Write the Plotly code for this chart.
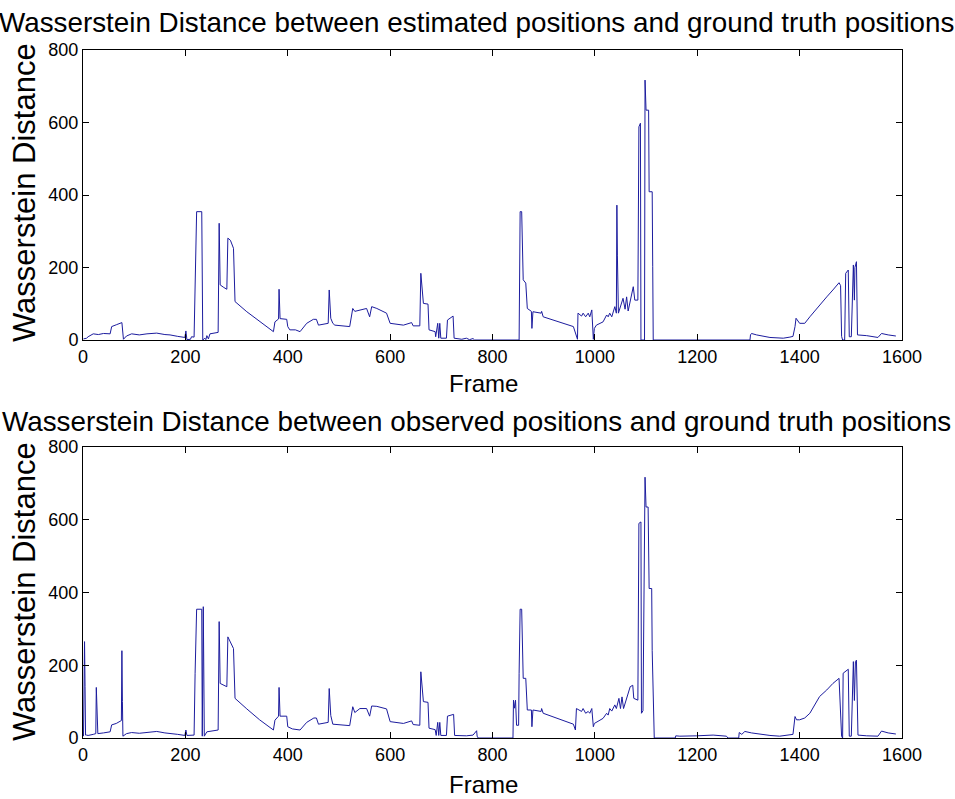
import plotly.graph_objects as go

# ---------------- data ----------------
top_frames = [1, 4, 7, 10, 15, 20, 30, 40, 53, 56, 65, 76, 79, 85, 95, 110, 125, 144, 160, 170, 185, 199, 201, 203, 210, 212, 217,
              219, 222, 232, 233, 234, 238, 240, 242, 245, 248, 256, 264, 266, 268, 275, 281, 283, 288, 294, 297, 320, 345, 372,
              375, 382, 383, 385, 398, 400, 404, 415, 424, 437, 450, 456, 460, 479, 481, 484, 488, 492, 521, 527, 531, 541, 554,
              560, 564, 574, 593, 600, 626, 642, 645, 658, 660, 665, 674, 676, 688, 689, 693, 695, 697, 699, 710, 712, 723, 725,
              740, 749, 755, 762, 765, 852, 853, 854, 857, 858, 860, 865, 868, 876, 877, 879, 895, 896, 899, 958, 964, 966, 967,
              974, 977, 982, 987, 990, 994, 997, 999, 1003, 1016, 1023, 1026, 1029, 1033, 1039, 1042, 1043, 1044, 1046, 1055,
              1059, 1062, 1065, 1075, 1078, 1084, 1086, 1089, 1090, 1097, 1098, 1100, 1105, 1106, 1112, 1113, 1114, 1303, 1304,
              1306, 1316, 1342, 1368, 1381, 1387, 1391, 1393, 1400, 1410, 1420, 1439, 1453, 1465, 1477, 1480, 1482, 1484, 1488,
              1490, 1495, 1497, 1501, 1505, 1507, 1508, 1511, 1513, 1531, 1553, 1560, 1573, 1588]
top_values = [3, 4, 5, 9, 12, 17, 15, 18, 17, 37, 42, 48, 2, 11, 17, 14, 17, 19, 15, 14, 10, 7, 25, 1, 2, 9, 8,
              175, 354, 354, 175, 0, 5, 1, 12, 3, 17, 19, 21, 322, 152, 145, 140, 281, 275, 253, 106, 78, 52, 23,
              50, 58, 140, 59, 57, 37, 28, 28, 23, 46, 57, 57, 41, 46, 138, 60, 46, 41, 37, 87, 79, 83, 87,
              64, 92, 87, 74, 46, 41, 48, 39, 39, 184, 101, 99, 28, 23, 9, 46, 5, 46, 5, 5, 55, 66, 5,
              2, 5, 1, 4, 0, 0, 175, 354, 354, 257, 166, 157, 87, 79, 32, 78, 74, 79, 64, 37, 9, 2, 74,
              66, 74, 64, 74, 64, 83, 2, 32, 41, 50, 69, 64, 74, 64, 92, 74, 372, 232, 74, 115,
              85, 119, 80, 147, 110, 110, 588, 598, 0, 0, 717, 634, 634, 409, 409, 202, 0, 0, 14,
              18, 14, 7, 5, 8, 10, 37, 60, 46, 46, 64, 97, 119, 138, 158, 150, 10, 0, 0,
              184, 193, 9, 9, 207, 110, 200, 216, 14, 12, 7, 18, 14, 11]

bottom_frames = [1, 3, 4, 5, 7, 10, 20, 25, 26, 27, 29, 40, 53, 56, 65, 75, 76, 77, 78, 85, 95, 110, 125, 144, 160, 170, 185,
                 199, 201, 203, 212, 217, 219, 222, 232, 233, 235, 236, 237, 242, 248, 264, 266, 268, 281, 283, 294, 297, 320,
                 345, 372, 375, 382, 383, 385, 398, 400, 409, 424, 437, 451, 456, 460, 479, 481, 484, 488, 521, 527, 531, 541,
                 554, 560, 564, 574, 593, 600, 626, 642, 645, 658, 660, 665, 674, 676, 688, 690, 693, 695, 697, 699, 710, 712,
                 724, 726, 749, 762, 768, 769, 770, 772, 840, 841, 843, 845, 847, 851, 852, 854, 857, 858, 860, 865, 868, 876,
                 877, 879, 895, 896, 899, 958, 962, 964, 974, 977, 982, 987, 990, 994, 997, 999, 1016, 1023, 1026, 1029, 1033,
                 1039, 1042, 1047, 1050, 1053, 1056, 1069, 1074, 1076, 1084, 1086, 1090, 1091, 1094, 1098, 1100, 1104, 1106,
                 1111, 1112, 1116, 1157, 1158, 1166, 1199, 1231, 1257, 1260, 1281, 1282, 1287, 1293, 1306, 1322, 1342, 1361,
                 1381, 1387, 1391, 1394, 1400, 1410, 1420, 1439, 1453, 1465, 1477, 1480, 1482, 1484, 1485, 1495, 1497, 1501,
                 1505, 1507, 1509, 1511, 1514, 1531, 1553, 1560, 1573, 1588]
bottom_values = [5, 265, 141, 8, 8, 7, 10, 12, 139, 72, 12, 14, 17, 36, 40, 48, 240, 100, 5, 12, 15, 13, 16, 18, 14, 13, 10,
                 7, 22, 7, 8, 8, 178, 354, 354, 5, 361, 180, 5, 17, 18, 22, 320, 150, 141, 278, 246, 109, 80,
                 50, 22, 49, 60, 139, 60, 60, 31, 25, 22, 43, 55, 55, 38, 43, 136, 62, 38, 34, 86, 70, 81,
                 81, 60, 88, 87, 80, 45, 40, 47, 37, 35, 182, 100, 98, 27, 23, 7, 43, 7, 43, 7, 7, 60,
                 65, 7, 6, 8, 17, 20, 5, 0, 0, 104, 82, 104, 35, 35, 178, 354, 354, 251, 164, 164, 77, 77,
                 31, 77, 73, 81, 68, 38, 22, 81, 73, 81, 68, 73, 68, 81, 31, 40, 54, 68, 63, 81, 74,
                 91, 81, 109, 81, 113, 81, 141, 145, 109, 104, 590, 594, 68, 75, 717, 635, 635, 411,
                 411, 240, 0, 0, 6, 5, 6, 8, 5, 0, 0, 15, 10, 18, 14, 10, 7, 5,
                 8, 10, 59, 50, 50, 55, 68, 114, 132, 150, 164, 86, 5, 0, 178, 189, 5, 5,
                 210, 103, 210, 214, 8, 6, 5, 19, 14, 11]

x_ticks = [0, 200, 400, 600, 800, 1000, 1200, 1400, 1600]
y_ticks = [0, 200, 400, 600, 800]

title_top = "Wasserstein Distance between estimated positions and ground truth positions"
title_bottom = "Wasserstein Distance between observed positions and ground truth positions"
x_label = "Frame"
y_label = "Wasserstein Distance"

# ---------------- figure ----------------
W, H = 955, 799
FONT = "Liberation Sans, Arial, sans-serif"
LINE = "#1c1c9e"


def px_x(X):  # window pixel -> paper fraction
    return X / W


def px_y(Y):
    return 1 - Y / H


fig = go.Figure()
fig.add_trace(go.Scatter(x=top_frames, y=top_values, mode="lines",
                         line=dict(color=LINE, width=1), xaxis="x", yaxis="y", showlegend=False))
fig.add_trace(go.Scatter(x=bottom_frames, y=bottom_values, mode="lines",
                         line=dict(color=LINE, width=1), xaxis="x2", yaxis="y2", showlegend=False))

x_dom = [px_x(83), px_x(902)]
top_dom = [px_y(340), px_y(50)]
bot_dom = [px_y(738), px_y(447)]

axis_common = dict(showgrid=False, zeroline=False, showline=True, linecolor="black", linewidth=1,
                   mirror="ticks", ticks="inside", ticklen=6, tickcolor="black", tickwidth=1,
                   automargin=False,
                   tickfont=dict(family=FONT, size=18, color="black"))

fig.update_layout(
    template="none",
    width=W, height=H, margin=dict(l=0, r=0, t=0, b=0, pad=0), autosize=False,
    showlegend=False,
    paper_bgcolor="white", plot_bgcolor="white",
    xaxis=dict(domain=x_dom, range=[0, 1600], tickvals=x_ticks, anchor="y", **axis_common),
    yaxis=dict(domain=top_dom, range=[0, 800], tickvals=y_ticks, anchor="x", **axis_common),
    xaxis2=dict(domain=x_dom, range=[0, 1600], tickvals=x_ticks, anchor="y2", **axis_common),
    yaxis2=dict(domain=bot_dom, range=[0, 800], tickvals=y_ticks, anchor="x2", **axis_common),
)

title_font = dict(family=FONT, size=27.8, color="black")
xlab_font = dict(family=FONT, size=24, color="black")
ylab_font = dict(family=FONT, size=31, color="black")
annotations = [
    dict(text=title_top, x=px_x(476), y=px_y(22), font=title_font),
    dict(text=x_label, x=px_x(483), y=px_y(383), font=xlab_font),
    dict(text=title_bottom, x=px_x(476), y=px_y(422), font=title_font),
    dict(text=x_label, x=px_x(483), y=px_y(784), font=xlab_font),
    dict(text=y_label, x=px_x(24), y=px_y(193), font=ylab_font, textangle=-90),
    dict(text=y_label, x=px_x(24), y=px_y(592), font=ylab_font, textangle=-90),
]
for a in annotations:
    a.update(xref="paper", yref="paper", showarrow=False, xanchor="center", yanchor="middle")
fig.update_layout(annotations=annotations)

fig.write_html("out.html")
